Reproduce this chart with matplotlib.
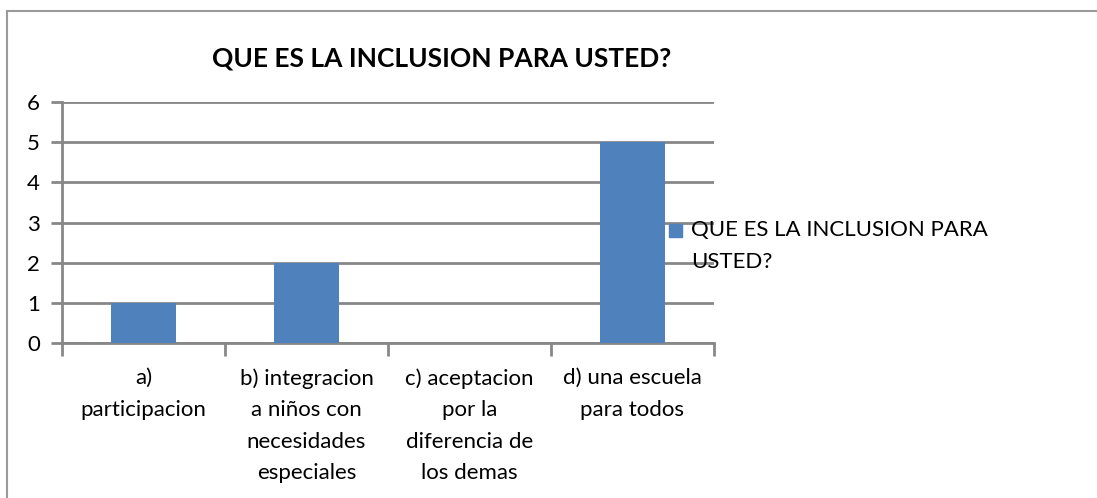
import matplotlib.pyplot as plt
from matplotlib.lines import Line2D
from matplotlib.patches import Rectangle
import numpy as np

# Data
categories = ["a)\nparticipacion",
              "b) integracion\na niños con\nnecesidades\nespeciales",
              "c) aceptacion\npor la\ndiferencia de\nlos demas",
              "d) una escuela\npara todos"]
values = [1, 2, 0, 5]
series_name = "QUE ES LA INCLUSION PARA\nUSTED?"
title = "QUE ES LA INCLUSION PARA USTED?"

plt.rcParams['font.family'] = ['Lato', 'DejaVu Sans']
grid_color = "#878787"
bar_color = "#4F81BD"

fig = plt.figure(figsize=(10.97, 4.98), dpi=100)
ax = fig.add_axes([62 / 1097, 1 - 343 / 498, (714 - 62) / 1097, (343 - 102) / 498])

x = np.arange(len(categories))
ax.bar(x, values, width=0.4, color=bar_color, label=series_name, zorder=3)

ax.set_xlim(-0.5, len(categories) - 0.5)
ax.set_ylim(0, 6)
ax.set_yticks(range(0, 7))
ax.yaxis.grid(True, color=grid_color, linewidth=2, zorder=0)

# category labels at centres, tick marks on boundaries
ax.set_xticks(x)
ax.set_xticklabels(categories, fontsize=16, linespacing=1.72, va="top")
ax.tick_params(axis="x", which="major", length=0, pad=18)
ax.set_xticks(np.arange(-0.5, len(categories)), minor=True)
ax.tick_params(axis="x", which="minor", length=9, width=2, color=grid_color)
ax.tick_params(axis="y", length=8, width=2, color=grid_color, labelsize=16, pad=8)

for side in ["top", "right"]:
    ax.spines[side].set_visible(False)
for side in ["left", "bottom"]:
    ax.spines[side].set_color(grid_color)
    ax.spines[side].set_linewidth(2)

fig.text(442 / 1097, 1 - 58 / 498, title, fontsize=19, fontweight="bold",
         ha="center", va="center")

# legend: square key level with the first text line
fig.add_artist(Rectangle((669 / 1097, 1 - 237 / 498), 13 / 1097, 13 / 498,
                         transform=fig.transFigure, color=bar_color))
fig.text(691 / 1097, 1 - 220 / 498, series_name, fontsize=16, ha="left",
         va="top", linespacing=1.75)

# outer chart border
fig.add_artist(Line2D([7 / 1097, 7 / 1097], [0, 1 - 11 / 498], color="#9a9a9a", linewidth=1.5))
fig.add_artist(Line2D([7 / 1097, 1], [1 - 11 / 498, 1 - 11 / 498], color="#9a9a9a", linewidth=1.5))

fig.savefig("out.png", dpi=100)
